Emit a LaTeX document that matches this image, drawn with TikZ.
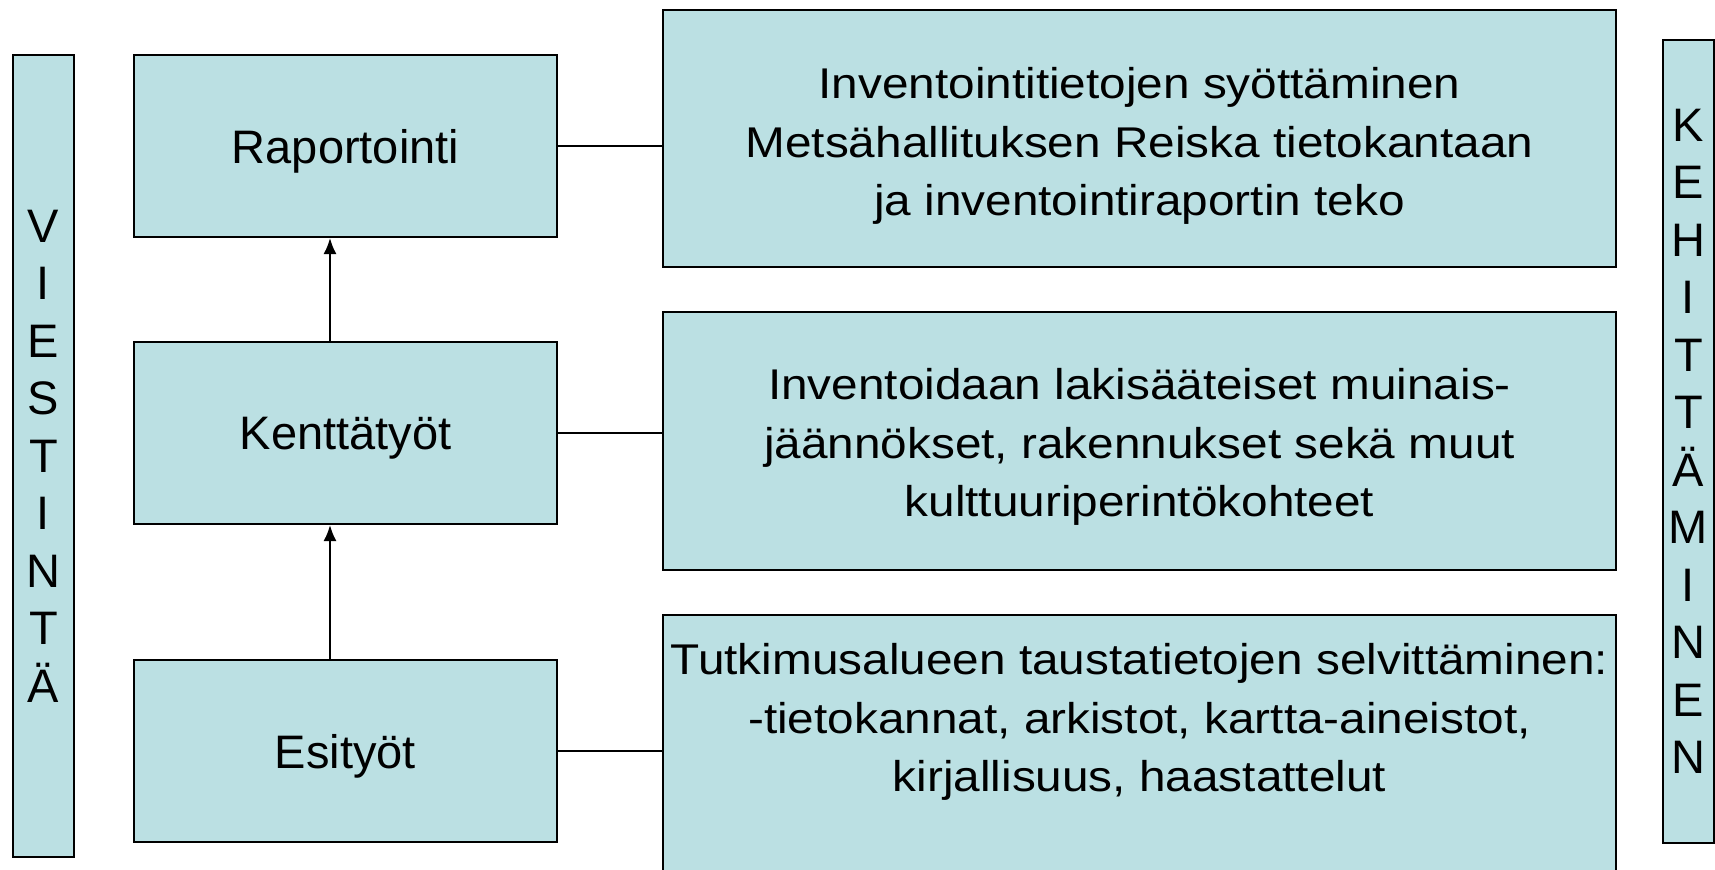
\documentclass[tikz,border=0pt]{standalone}
\usepackage{fontspec}
\setmainfont{Liberation Sans}
\newfontfamily\widefont{Liberation Sans}[FakeStretch=1.11]
\usetikzlibrary{arrows.meta}
\definecolor{boxfill}{RGB}{187,224,227}
\begin{document}
\begin{tikzpicture}[x=0.5pt,y=-0.5pt,
  box/.style={draw=black, line width=1pt, fill=boxfill, inner sep=0pt, align=center},
  leftbox/.style={box, minimum width=211.5pt, minimum height=91pt, text depth=0pt, font=\fontsize{23.5}{28.75}\selectfont},
  rightbox/.style={box, minimum width=476.5pt},
  righttext/.style={align=center, inner sep=0pt, font=\widefont\fontsize{21.5}{29.25}\selectfont},
  barbox/.style={box, font=\fontsize{23.5}{28.75}\selectfont},
  conn/.style={draw=black, line width=0.75pt},
  arr/.style={draw=black, line width=1pt, -{Latex[length=8pt,width=6.5pt]}}]
\useasboundingbox (0,0) rectangle (1715,869);
\clip (0,0) rectangle (1715,869);
% side bars
\node[barbox, minimum width=30.5pt, minimum height=401pt] (vb) at (43.5,456)
  {V\\I\\E\\S\\T\\I\\N\\T\\Ä};
\node[barbox, minimum width=25.5pt, minimum height=401.5pt] (kb) at (1688.5,441.5)
  {K\\E\\H\\I\\T\\T\\Ä\\M\\I\\N\\E\\N};
% left boxes
\node[leftbox] (r) at (345.5,146) {Raportointi};
\node[leftbox] (k) at (345.5,433) {Kenttätyöt};
\node[leftbox] (e) at (345.5,751) {Esityöt};
% right boxes
\node[rightbox, minimum height=128.5pt] (rt) at (1139.5,138.5) {};
\node[righttext] (rtt) at (1139.5,146)
  {Inventointitietojen syöttäminen\\Metsähallituksen Reiska tietokantaan\\ja inventointiraportin teko};
\node[rightbox, minimum height=129pt] (rm) at (1139.5,441) {};
\node[righttext] (rmt) at (1139.5,447)
  {Inventoidaan lakisääteiset muinais-\\jäännökset, rakennukset sekä muut\\kulttuuriperintökohteet};
\node[rightbox, minimum height=136pt] (rb) at (1139.5,751) {};
\node[righttext] (rbt) at (1139.5,722)
  {Tutkimusalueen taustatietojen selvittäminen:\\-tietokannat, arkistot, kartta-aineistot,\\kirjallisuus, haastattelut};
% connectors
\draw[conn] (r.east) -- (r.east -| rt.west);
\draw[conn] (k.east) -- (k.east -| rm.west);
\draw[conn] (e.east) -- (rb.west);
% arrows
\draw[arr] ([xshift=-7.75pt]k.north) -- ([xshift=-7.75pt]r.south);
\draw[arr] ([xshift=-7.75pt]e.north) -- ([xshift=-7.75pt]k.south);
\end{tikzpicture}
\end{document}
